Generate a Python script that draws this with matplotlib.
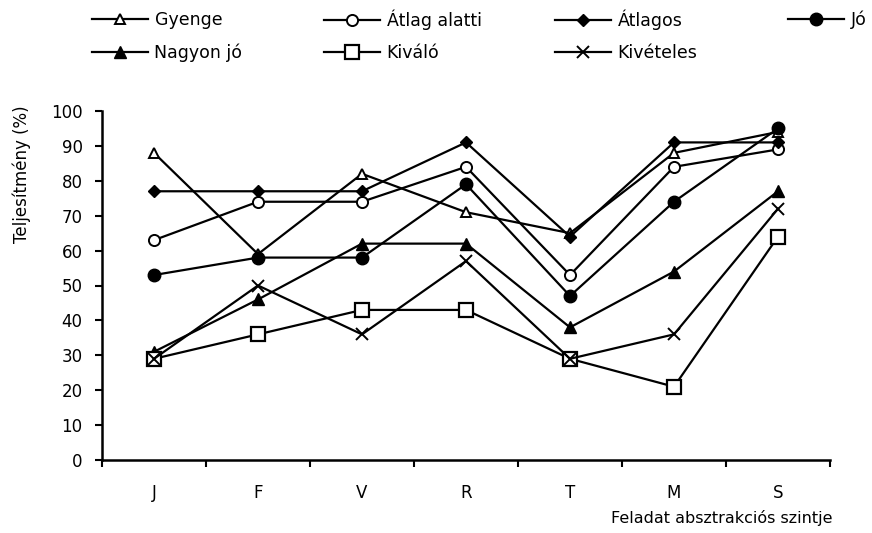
import matplotlib.pyplot as plt
import numpy as np

plt.rcParams['font.family'] = ['DejaVu Sans']

# ------------------------------------------------
# DATA
# ------------------------------------------------

levels = ["J", "F", "V", "R", "T", "M", "S"]

gyenge = [88, 59, 82, 71, 65, 88, 94]
atlag_alatti = [63, 74, 74, 84, 53, 84, 89]
atlagos = [77, 77, 77, 91, 64, 91, 91]
jo = [53, 58, 58, 79, 47, 74, 95]
nagyon_jo = [31, 46, 62, 62, 38, 54, 77]
kivalo = [29, 36, 43, 43, 29, 21, 64]
kiveteles = [29, 50, 36, 57, 29, 36, 72]

y_ticks = [0, 10, 20, 30, 40, 50, 60, 70, 80, 90, 100]

# ------------------------------------------------
# PLOT
# ------------------------------------------------

W, H = 872, 533
fig = plt.figure(figsize=(W / 100, H / 100), dpi=100)
ax = fig.add_axes([102 / W, 1 - 460 / H, 728 / W, 349 / H])

x = np.arange(len(levels))
lw = 1.6

lines = {}
lines["Gyenge"] = ax.plot(x, gyenge, color="black", lw=lw, marker="^", ms=7,
                          mfc="white", mec="black", mew=1.4)[0]
lines["Átlag alatti"] = ax.plot(x, atlag_alatti, color="black", lw=lw, marker="o", ms=8,
                                mfc="white", mec="black", mew=1.4)[0]
lines["Átlagos"] = ax.plot(x, atlagos, color="black", lw=lw, marker="D", ms=6,
                           mfc="black", mec="black")[0]
lines["Jó"] = ax.plot(x, jo, color="black", lw=lw, marker="o", ms=9,
                      mfc="black", mec="black")[0]
lines["Nagyon jó"] = ax.plot(x, nagyon_jo, color="black", lw=lw, marker="^", ms=8,
                             mfc="black", mec="black")[0]
lines["Kiváló"] = ax.plot(x, kivalo, color="black", lw=lw, marker="s", ms=10,
                          mfc="white", mec="black", mew=1.6)[0]
lines["Kivételes"] = ax.plot(x, kiveteles, color="black", lw=lw, marker="x", ms=9,
                             mec="black", mew=1.4)[0]

ax.set_xlim(-0.5, len(levels) - 0.5)
ax.set_ylim(0, 100)
ax.set_yticks(y_ticks)
ax.set_xticks(x)
ax.set_xticklabels(levels, fontsize=12)
ax.set_xticks(np.arange(-0.5, len(levels)), minor=True)
ax.tick_params(axis="x", which="major", length=0, pad=17)
ax.tick_params(axis="x", which="minor", length=5, width=1.5, direction="out")
ax.tick_params(axis="y", length=5, width=1.5, direction="out", pad=9, labelsize=12)

for side in ["top", "right"]:
    ax.spines[side].set_visible(False)
for side in ["left", "bottom"]:
    ax.spines[side].set_linewidth(1.8)

ax.set_ylabel("Teljesítmény (%)", fontsize=12)
ax.yaxis.set_label_coords(-0.098, 0.82)
fig.text(832 / W, 1 - 518 / H, "Feladat absztrakciós szintje", fontsize=11.5,
         ha="right", va="center")

# legend: one small legend per entry so that rows and columns line up
entries = [("Gyenge", 92, 20), ("Átlag alatti", 324, 20), ("Átlagos", 555, 20),
           ("Jó", 788, 20), ("Nagyon jó", 92, 53), ("Kiváló", 324, 53),
           ("Kivételes", 555, 53)]
for name, cx, cy in entries:
    fig.legend([lines[name]], [name], loc="center left",
               bbox_to_anchor=(cx / W, 1 - cy / H), frameon=False,
               fontsize=12.5, handlelength=3.2, handletextpad=0.4,
               borderpad=0, borderaxespad=0)

fig.savefig("out.png", dpi=100)
